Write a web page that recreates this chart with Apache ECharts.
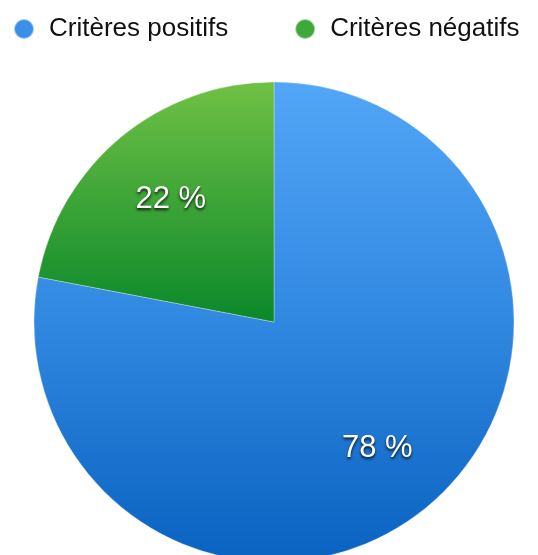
<!DOCTYPE html>
<html>
<head>
<meta charset="utf-8">
<script src="https://cdn.jsdelivr.net/npm/echarts@6/dist/echarts.min.js"></script>
<style>
  html, body { margin: 0; padding: 0; background: #fff; }
  #chart { width: 538px; height: 555px; }
</style>
</head>
<body>
<div id="chart"></div>
<script>
// données
const categories = ['Critères positifs', 'Critères négatifs'];
const values = [78, 22];

// dégradés verticaux (coordonnées globales du disque)
const pieTop = 82, pieMid = 322, pieBottom = 562;
const fills = [
  new echarts.graphic.LinearGradient(0, pieTop, 0, pieBottom, [
    { offset: 0, color: '#52a6f7' },
    { offset: 0.5, color: '#3188e0' },
    { offset: 1, color: '#0a62c1' }
  ], true),
  new echarts.graphic.LinearGradient(0, pieTop, 0, pieMid, [
    { offset: 0, color: '#70c145' },
    { offset: 1, color: '#0a882a' }
  ], true)
];
const legendColors = ['#3a8fe6', '#3ea83a'];

const pieData = categories.map((name, i) => ({
  name: name,
  value: values[i],
  itemStyle: { color: fills[i] }
}));

const labelData = categories.map((name, i) => ({ name: name, value: values[i] }));

let chart = echarts.init(document.getElementById('chart'));
chart.setOption({
  animation: false,
  color: legendColors,
  legend: {
    data: categories.map((name, i) => ({ name: name, itemStyle: { color: legendColors[i] } })),
    icon: 'circle',
    left: 8,
    top: 11,
    itemWidth: 20,
    itemHeight: 20,
    itemGap: 66,
    textStyle: {
      fontFamily: '"Liberation Sans", Arial, sans-serif',
      fontSize: 26,
      color: '#111',
      padding: [0, 0, 0, 10]
    }
  },
  series: [
    {
      type: 'pie',
      center: [274, 322],
      radius: 240,
      startAngle: 90,
      clockwise: true,
      silent: true,
      data: pieData,
      label: { show: false },
      labelLine: { show: false },
      itemStyle: { borderColor: 'rgba(255,255,255,0.5)', borderWidth: 0.6 }
    },
    {
      // anneau transparent qui porte les étiquettes
      type: 'pie',
      center: [274, 324],
      radius: [78, 240],
      startAngle: 90,
      clockwise: true,
      silent: true,
      data: labelData,
      itemStyle: { color: 'rgba(0,0,0,0)' },
      labelLine: { show: false },
      label: {
        show: true,
        position: 'inside',
        formatter: '{c} %',
        fontFamily: '"Liberation Sans", Arial, sans-serif',
        fontSize: 31,
        color: '#fff',
        textShadowColor: 'rgba(0,0,0,0.85)',
        textShadowBlur: 3,
        textShadowOffsetY: 2
      }
    }
  ]
});
</script>
</body>
</html>
